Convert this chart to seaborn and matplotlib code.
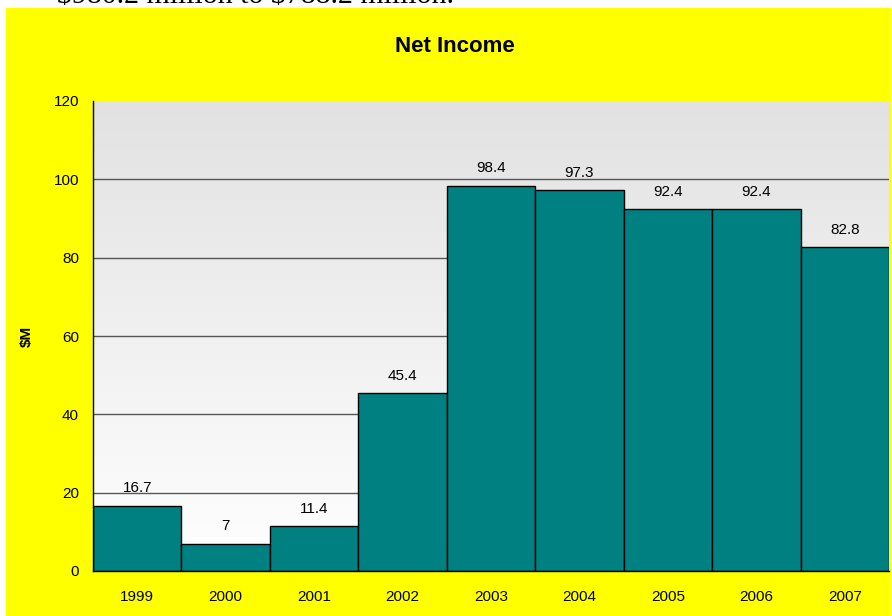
import matplotlib
matplotlib.use("Agg")
import matplotlib.pyplot as plt
import seaborn as sns
import numpy as np
import pandas as pd

years = ["1999", "2000", "2001", "2002", "2003", "2004", "2005", "2006", "2007"]
net_income = [16.7, 7, 11.4, 45.4, 98.4, 97.3, 92.4, 92.4, 82.8]
labels = ["16.7", "7", "11.4", "45.4", "98.4", "97.3", "92.4", "92.4", "82.8"]
yticks = [0, 20, 40, 60, 80, 100, 120]

df = pd.DataFrame({"year": years, "value": net_income})

sns.set_theme(style="white")
plt.rcParams["font.family"] = ["Liberation Sans", "DejaVu Sans"]
plt.rcParams["text.color"] = "black"
plt.rcParams["axes.labelcolor"] = "black"
plt.rcParams["xtick.color"] = "black"
plt.rcParams["ytick.color"] = "black"

fig = plt.figure(figsize=(8.92, 6.16), dpi=100)
fig.patch.set_facecolor("white")

# yellow chart area
bg = fig.add_axes([6/892, 0, (891-6)/892, (616-8)/616], zorder=-10)
bg.set_facecolor("#FFFF00")
bg.set_xticks([]); bg.set_yticks([])
for s in bg.spines.values():
    s.set_visible(False)

# cut-off text from the page above
fig.text(57/892, 1 - 3/616, r"\$980.2 million to \$788.2 million.", fontsize=21.5, family="Liberation Serif",
         va="baseline", ha="left", color="black")

ax = fig.add_axes([93/892, 1 - 571/616, (889-93)/892, (571-101)/616], zorder=1)
ax.set_facecolor("none")

# gradient background
grad = np.linspace(0, 1, 256).reshape(-1, 1)
ax.imshow(grad, cmap=matplotlib.colors.LinearSegmentedColormap.from_list("g", ["#ffffff", "#e2e2e2"]),
          extent=[-0.5, 8.5, 0, 120], aspect="auto", origin="lower", zorder=0)

sns.barplot(data=df, x="year", y="value", ax=ax, color="#008080", width=1.0,
            edgecolor="black", linewidth=1.0, saturation=1, zorder=3)

for i, (v, t) in enumerate(zip(net_income, labels)):
    ax.text(i, v + 2.6, t, ha="center", va="bottom", fontsize=11, color="black", zorder=4)

ax.set_xlim(-0.5, 8.5)
ax.set_ylim(0, 120)
ax.set_yticks(yticks)
ax.set_yticklabels([str(y) for y in yticks], fontsize=11)
ax.tick_params(axis="x", labelsize=11, pad=14)
ax.set_xticks(np.arange(-0.5, 9, 1), minor=True)
ax.tick_params(axis="x", which="major", length=0)
ax.tick_params(axis="x", which="minor", length=6, width=1, color="black", direction="out")
ax.tick_params(axis="y", length=6, width=1, color="black", direction="out", pad=4)
for y in yticks[1:-1]:
    ax.axhline(y, color="#555555", linewidth=1, zorder=2)

for s in ["top", "right"]:
    ax.spines[s].set_visible(False)
for s in ["left", "bottom"]:
    ax.spines[s].set_color("black")
    ax.spines[s].set_linewidth(1)
    ax.spines[s].set_zorder(5)

ax.set_xlabel("")
ax.set_ylabel(r"\$M", fontsize=11, fontweight="bold")
ax.yaxis.set_label_coords((34 - 93) / (889 - 93), 0.5)
fig.text(455/892, 1 - 46/616, "Net Income", ha="center", va="center", fontsize=16, fontweight="bold")

fig.savefig("out.png", dpi=100)
